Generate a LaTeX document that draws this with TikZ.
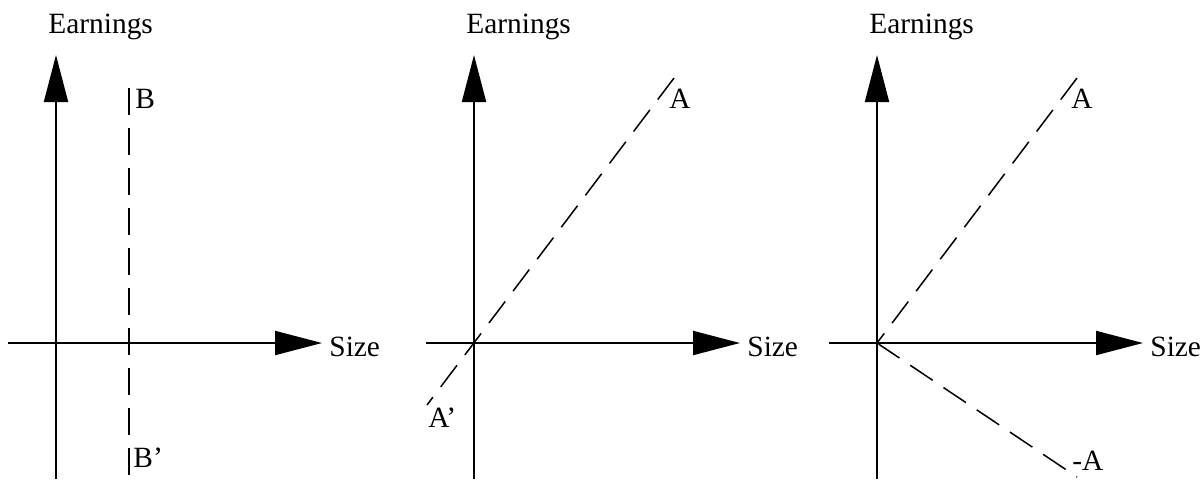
\documentclass[tikz,border=0pt]{standalone}
\usepackage{fontspec}
\setmainfont{Liberation Serif}
\usetikzlibrary{arrows.meta}

\begin{document}
\begin{tikzpicture}[
  x=0.5pt, y=-0.5pt,
  axis/.style={line width=1pt, -{Triangle[length=23.5pt,width=12pt]}},
  axisline/.style={line width=1pt},
  locus/.style={line width=0.75pt, dash pattern=on 13.5pt off 6.5pt},
  lbl/.style={inner sep=0pt, anchor=base west, font=\fontsize{14.7}{17}\selectfont}
]
\useasboundingbox (0,0) rectangle (1204,479);
% ---- three panels: origin of each at the crossing of its axes ----
\foreach \p/\ox in {1/56,2/474,3/877}{
  \begin{scope}[shift={(\ox,343)}]
    \coordinate (O\p) at (0,0);
    \coordinate (ybot\p) at (0,136);
    \coordinate (ytop\p) at (0,-288);
    \coordinate (xlft\p) at (-48,0);
    \coordinate (xrgt\p) at (266,0);
    \draw[axisline] (ybot\p) -- (O\p);
    \draw[axis] (O\p) -- (ytop\p);
    \draw[axisline] (xlft\p) -- (O\p);
    \draw[axis] (O\p) -- (xrgt\p);
    \node[lbl] (earn\p) at (-8,-310) {Earnings};
    \node[lbl, anchor=west] (size\p) at (273,4) {Size};
  \end{scope}
}
% ---- panel 1: vertical locus B--B' ----
\begin{scope}[shift={(56,343)}]
  \coordinate (Btop) at (73,-255);
  \coordinate (Bbot) at (73,136);
  \draw[locus] (Btop) -- (Bbot);
  \node[lbl] (B) at (79,-235) {B};
  \node[lbl] (Bp) at (77,124) {B'};
\end{scope}
% ---- panel 2: line A'--A through the origin ----
\begin{scope}[shift={(474,343)}]
  \coordinate (Aend) at (200,-265);
  \coordinate (Apend) at (-47,62);
  \draw[locus] (Aend) -- (Apend);
  \node[lbl] (A) at (195,-235) {A};
  \node[lbl] (Ap) at (-46,84) {A'};
\end{scope}
% ---- panel 3: two rays A and -A from the origin ----
\begin{scope}[shift={(877,343)}]
  \coordinate (Cup) at (200,-265);
  \coordinate (Cdn) at (200,134);
  \draw[locus] (Cup) -- (O3);
  \draw[locus] (O3) -- (Cdn);
  \node[lbl] (C) at (194,-235) {A};
  \node[lbl] (Cm) at (195,127) {-A};
\end{scope}
\end{tikzpicture}
\end{document}
